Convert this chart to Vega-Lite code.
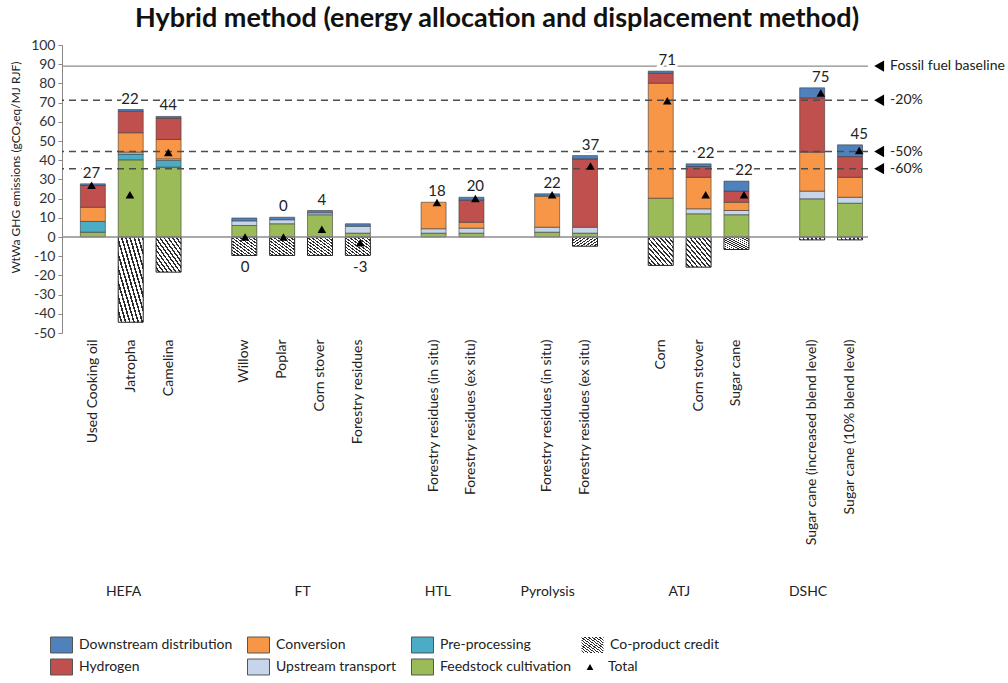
{
  "$schema": "https://vega.github.io/schema/vega-lite/v6.json",
  "width": 806,
  "height": 288,
  "autosize": {"type": "none"},
  "padding": {"left": 62, "top": 45, "right": 140, "bottom": 350},
  "background": "white",
  "config": {
    "font": "Lato",
    "view": {"stroke": null},
    "axis": {"grid": false, "labelFont": "Lato", "titleFont": "Lato"},
    "axisY": {
      "labelOverlap": false, "labelBound": false, "labelFlush": false,
      "labelFontSize": 14, "labelColor": "#333", "tickSize": 4, "tickColor": "#888",
      "domainColor": "#888", "labelPadding": 3, "titleFontSize": 12, "titleFontWeight": "normal",
      "titleColor": "#222", "titleX": -47, "titleY": 122, "titleBaseline": "middle", "titleAlign": "center"
    },
    "legend": {"labelFont": "Lato"},
    "text": {"font": "Lato"}
  },
  "title": {
    "text": "Hybrid method (energy allocation and displacement method)",
    "font": "Lato", "fontSize": 27, "fontWeight": "bold", "color": "#111",
    "anchor": "middle", "frame": "group", "dx": 32, "offset": 5
  },
  "datasets": {
    "p": [
      {"id": "HEFA|Used Cooking oil", "Feedstock cultivation": 2.5, "Pre-processing": 5.6, "Upstream transport": 0, "Conversion": 7.4, "Hydrogen": 11.3, "Downstream distribution": 0.9, "Co-product credit": 0, "Total": 27},
      {"id": "HEFA|Jatropha", "Feedstock cultivation": 40.2, "Pre-processing": 3.0, "Upstream transport": 1.0, "Conversion": 10.1, "Hydrogen": 11.2, "Downstream distribution": 0.9, "Co-product credit": -44.4, "Total": 22},
      {"id": "HEFA|Camelina", "Feedstock cultivation": 36.4, "Pre-processing": 3.5, "Upstream transport": 0.8, "Conversion": 10.1, "Hydrogen": 11.1, "Downstream distribution": 0.9, "Co-product credit": -18.3, "Total": 44},
      {"id": "FT|Willow", "Feedstock cultivation": 6.0, "Pre-processing": 0, "Upstream transport": 2.4, "Conversion": 0, "Hydrogen": 0, "Downstream distribution": 1.5, "Co-product credit": -9.6, "Total": 0},
      {"id": "FT|Poplar", "Feedstock cultivation": 6.9, "Pre-processing": 0, "Upstream transport": 2.1, "Conversion": 0, "Hydrogen": 0, "Downstream distribution": 1.3, "Co-product credit": -9.6, "Total": 0},
      {"id": "FT|Corn stover", "Feedstock cultivation": 11.6, "Pre-processing": 0, "Upstream transport": 1.0, "Conversion": 0, "Hydrogen": 0, "Downstream distribution": 1.2, "Co-product credit": -9.6, "Total": 4},
      {"id": "FT|Forestry residues", "Feedstock cultivation": 2.0, "Pre-processing": 0, "Upstream transport": 3.6, "Conversion": 0, "Hydrogen": 0, "Downstream distribution": 1.3, "Co-product credit": -9.6, "Total": -3},
      {"id": "HTL|Forestry residues (in situ)", "Feedstock cultivation": 2.0, "Pre-processing": 0, "Upstream transport": 2.3, "Conversion": 13.8, "Hydrogen": 0, "Downstream distribution": 0, "Co-product credit": 0, "Total": 18},
      {"id": "HTL|Forestry residues (ex situ)", "Feedstock cultivation": 2.0, "Pre-processing": 0, "Upstream transport": 2.6, "Conversion": 3.1, "Hydrogen": 11.5, "Downstream distribution": 1.5, "Co-product credit": 0, "Total": 20},
      {"id": "Pyrolysis|Forestry residues (in situ)", "Feedstock cultivation": 2.5, "Pre-processing": 0, "Upstream transport": 2.6, "Conversion": 16.2, "Hydrogen": 0, "Downstream distribution": 1.2, "Co-product credit": 0, "Total": 22},
      {"id": "Pyrolysis|Forestry residues (ex situ)", "Feedstock cultivation": 2.0, "Pre-processing": 0, "Upstream transport": 3.1, "Conversion": 0, "Hydrogen": 35.6, "Downstream distribution": 1.7, "Co-product credit": -4.8, "Total": 37},
      {"id": "ATJ|Corn", "Feedstock cultivation": 20.2, "Pre-processing": 0, "Upstream transport": 0, "Conversion": 59.9, "Hydrogen": 5.2, "Downstream distribution": 1.1, "Co-product credit": -14.8, "Total": 71},
      {"id": "ATJ|Corn stover", "Feedstock cultivation": 12.1, "Pre-processing": 0, "Upstream transport": 2.6, "Conversion": 16.4, "Hydrogen": 5.6, "Downstream distribution": 1.4, "Co-product credit": -15.7, "Total": 22},
      {"id": "ATJ|Sugar cane", "Feedstock cultivation": 11.6, "Pre-processing": 0, "Upstream transport": 2.2, "Conversion": 4.3, "Hydrogen": 5.8, "Downstream distribution": 5.2, "Co-product credit": -6.5, "Total": 22},
      {"id": "DSHC|Sugar cane (increased blend level)", "Feedstock cultivation": 19.9, "Pre-processing": 0, "Upstream transport": 4.0, "Conversion": 20.3, "Hydrogen": 28.3, "Downstream distribution": 5.2, "Co-product credit": -1.5, "Total": 75},
      {"id": "DSHC|Sugar cane (10% blend level)", "Feedstock cultivation": 17.6, "Pre-processing": 0, "Upstream transport": 3.1, "Conversion": 10.4, "Hydrogen": 10.8, "Downstream distribution": 6.1, "Co-product credit": -1.5, "Total": 45}
    ],
    "refs": [
      {"label": "Fossil fuel baseline", "value": 89},
      {"label": "-20%", "value": 71.2},
      {"label": "-50%", "value": 44.5},
      {"label": "-60%", "value": 35.6}
    ]
  },
  "layer": [
    {
      "data": {"name": "p"},
      "encoding": {
        "x": {
          "field": "id", "type": "nominal",
          "scale": {
            "domain": ["HEFA|Used Cooking oil", "HEFA|Jatropha", "HEFA|Camelina", "gap1|", "FT|Willow", "FT|Poplar", "FT|Corn stover", "FT|Forestry residues", "gap2|", "HTL|Forestry residues (in situ)", "HTL|Forestry residues (ex situ)", "gap3|", "Pyrolysis|Forestry residues (in situ)", "Pyrolysis|Forestry residues (ex situ)", "gap4|", "ATJ|Corn", "ATJ|Corn stover", "ATJ|Sugar cane", "gap5|", "DSHC|Sugar cane (increased blend level)", "DSHC|Sugar cane (10% blend level)"],
            "paddingInner": 0.34, "paddingOuter": 0.315, "align": 0.77
          },
          "axis": {
            "title": null, "labelAngle": -90, "labelAlign": "right", "labelBaseline": "middle",
            "labelPadding": 6, "ticks": false, "domain": false, "labelFontSize": 14,
            "labelColor": "#222", "labelExpr": "split(datum.label, '|')[1]", "labelLimit": 0, "labelOverlap": false
          }
        }
      },
      "layer": [
        {
          "transform": [
            {"fold": ["Feedstock cultivation", "Pre-processing", "Upstream transport", "Conversion", "Hydrogen", "Downstream distribution"], "as": ["component", "value"]},
            {"window": [{"op": "row_number", "as": "k"}], "groupby": ["id"]},
            {"filter": "datum.value > 0"}
          ],
          "mark": {"type": "bar", "stroke": "#3a3a3a", "strokeWidth": 0.7, "strokeOpacity": 0.85},
          "encoding": {
            "y": {
              "field": "value", "type": "quantitative", "stack": "zero",
              "scale": {"domain": [-50, 100], "nice": false, "zero": false},
              "axis": {"title": "WtWa GHG emissions  (gCO₂eq/MJ RJF)", "values": [-50, -40, -30, -20, -10, 0, 10, 20, 30, 40, 50, 60, 70, 80, 90, 100], "labelExpr": "'' + datum.value", "labelOverlap": false}
            },
            "color": {
              "field": "component", "type": "nominal",
              "scale": {
                "domain": ["Downstream distribution", "Hydrogen", "Conversion", "Upstream transport", "Pre-processing", "Feedstock cultivation"],
                "range": ["#4f81bd", "#c0504d", "#f79646", "#c6d5ea", "#4bacc6", "#9bbb59"]
              },
              "legend": {
                "orient": "none", "legendX": -12, "legendY": 589, "columns": 3, "title": null,
                "gridAlign": "each", "columnPadding": 14, "rowPadding": 0, "symbolSize": 484, "clipHeight": 22,
                "symbolType": "M-1,-0.727H1V0.727H-1Z", "symbolStrokeColor": "#555", "symbolStrokeWidth": 1,
                "labelFontSize": 14, "labelColor": "#222", "labelOffset": 6, "labelLimit": 0, "symbolOpacity": 1
              }
            },
            "order": {"field": "k", "type": "quantitative"}
          }
        },
        {
          "transform": [{"filter": "datum['Co-product credit'] < 0"}],
          "mark": {
            "type": "bar", "stroke": "#222", "strokeWidth": 1,
            "fill": {"gradient": "linear", "x1": 0, "y1": 1, "x2": 1, "y2": 0, "stops": [{"offset":0,"color":"#fff"},{"offset":0.05,"color":"#fff"},{"offset":0.05,"color":"#2b2b2b"},{"offset":0.0833,"color":"#2b2b2b"},{"offset":0.0833,"color":"#fff"},{"offset":0.1333,"color":"#fff"},{"offset":0.1333,"color":"#2b2b2b"},{"offset":0.1667,"color":"#2b2b2b"},{"offset":0.1667,"color":"#fff"},{"offset":0.2167,"color":"#fff"},{"offset":0.2167,"color":"#2b2b2b"},{"offset":0.25,"color":"#2b2b2b"},{"offset":0.25,"color":"#fff"},{"offset":0.3,"color":"#fff"},{"offset":0.3,"color":"#2b2b2b"},{"offset":0.3333,"color":"#2b2b2b"},{"offset":0.3333,"color":"#fff"},{"offset":0.3833,"color":"#fff"},{"offset":0.3833,"color":"#2b2b2b"},{"offset":0.4167,"color":"#2b2b2b"},{"offset":0.4167,"color":"#fff"},{"offset":0.4667,"color":"#fff"},{"offset":0.4667,"color":"#2b2b2b"},{"offset":0.5,"color":"#2b2b2b"},{"offset":0.5,"color":"#fff"},{"offset":0.55,"color":"#fff"},{"offset":0.55,"color":"#2b2b2b"},{"offset":0.5833,"color":"#2b2b2b"},{"offset":0.5833,"color":"#fff"},{"offset":0.6333,"color":"#fff"},{"offset":0.6333,"color":"#2b2b2b"},{"offset":0.6667,"color":"#2b2b2b"},{"offset":0.6667,"color":"#fff"},{"offset":0.7167,"color":"#fff"},{"offset":0.7167,"color":"#2b2b2b"},{"offset":0.75,"color":"#2b2b2b"},{"offset":0.75,"color":"#fff"},{"offset":0.8,"color":"#fff"},{"offset":0.8,"color":"#2b2b2b"},{"offset":0.8333,"color":"#2b2b2b"},{"offset":0.8333,"color":"#fff"},{"offset":0.8833,"color":"#fff"},{"offset":0.8833,"color":"#2b2b2b"},{"offset":0.9167,"color":"#2b2b2b"},{"offset":0.9167,"color":"#fff"},{"offset":0.9667,"color":"#fff"},{"offset":0.9667,"color":"#2b2b2b"},{"offset":1,"color":"#2b2b2b"}]}
          },
          "encoding": {
            "y": {"field": "Co-product credit", "type": "quantitative", "axis": {"title": "WtWa GHG emissions  (gCO₂eq/MJ RJF)", "values": [-50, -40, -30, -20, -10, 0, 10, 20, 30, 40, 50, 60, 70, 80, 90, 100], "labelExpr": "'' + datum.value", "labelOverlap": false}},
            "opacity": {
              "datum": "Co-product credit", "type": "nominal",
              "scale": {"range": [1]},
              "legend": {
                "orient": "none", "legendX": 519, "legendY": 589, "title": null, "clipHeight": 22,
                "symbolSize": 484, "symbolType": "M-1,-0.727H1V0.727H-1Z", "symbolStrokeColor": "#555", "symbolStrokeWidth": 1,
                "labelFontSize": 14, "labelColor": "#222", "labelOffset": 6, "labelLimit": 0
              }
            }
          }
        }
      ]
    },
    {
      "data": {"name": "refs"},
      "layer": [
        {
          "transform": [{"filter": "datum.label === 'Fossil fuel baseline'"}],
          "mark": {"type": "rule", "color": "#8c8c8c", "strokeWidth": 1.3},
          "encoding": {"y": {"datum": 0, "type": "quantitative", "axis": {"title": "WtWa GHG emissions  (gCO₂eq/MJ RJF)", "values": [-50, -40, -30, -20, -10, 0, 10, 20, 30, 40, 50, 60, 70, 80, 90, 100], "labelExpr": "'' + datum.value", "labelOverlap": false}}}
        },
        {
          "transform": [{"filter": "datum.label === 'Fossil fuel baseline'"}],
          "mark": {"type": "rule", "color": "#8c8c8c", "strokeWidth": 1.3},
          "encoding": {"y": {"field": "value", "type": "quantitative", "axis": {"title": "WtWa GHG emissions  (gCO₂eq/MJ RJF)", "values": [-50, -40, -30, -20, -10, 0, 10, 20, 30, 40, 50, 60, 70, 80, 90, 100], "labelExpr": "'' + datum.value", "labelOverlap": false}}}
        },
        {
          "transform": [{"filter": "datum.label !== 'Fossil fuel baseline'"}],
          "mark": {"type": "rule", "color": "#4d4d4d", "strokeWidth": 1.5, "strokeDash": [7, 5]},
          "encoding": {"y": {"field": "value", "type": "quantitative", "axis": {"title": "WtWa GHG emissions  (gCO₂eq/MJ RJF)", "values": [-50, -40, -30, -20, -10, 0, 10, 20, 30, 40, 50, 60, 70, 80, 90, 100], "labelExpr": "'' + datum.value", "labelOverlap": false}}}
        },
        {
          "mark": {"type": "point", "shape": "triangle-left", "filled": true, "color": "#000", "size": 130, "opacity": 1},
          "encoding": {
            "x": {
              "datum": 20.77, "type": "quantitative",
              "scale": {"domain": [-0.813, 20.476], "nice": false, "zero": false},
              "axis": {
                "orient": "bottom", "title": null, "values": [0.8, 5.53, 9.1, 12.0, 15.48, 18.88],
                "labelExpr": "datum.value < 3 ? 'HEFA' : datum.value < 7 ? 'FT' : datum.value < 10.5 ? 'HTL' : datum.value < 14 ? 'Pyrolysis' : datum.value < 17 ? 'ATJ' : 'DSHC'",
                "domain": false, "ticks": false, "grid": false, "labelPadding": 251, "labelFontSize": 14,
                "labelColor": "#222", "labelBaseline": "top", "labelAlign": "center", "labelFlush": false, "labelOverlap": false
              }
            },
            "y": {"field": "value", "type": "quantitative", "axis": {"title": "WtWa GHG emissions  (gCO₂eq/MJ RJF)", "values": [-50, -40, -30, -20, -10, 0, 10, 20, 30, 40, 50, 60, 70, 80, 90, 100], "labelExpr": "'' + datum.value", "labelOverlap": false}}
          }
        },
        {
          "mark": {"type": "text", "align": "left", "baseline": "middle", "fontSize": 14, "color": "#222"},
          "encoding": {
            "x": {"datum": 21.06, "type": "quantitative"},
            "y": {"field": "value", "type": "quantitative", "axis": {"title": "WtWa GHG emissions  (gCO₂eq/MJ RJF)", "values": [-50, -40, -30, -20, -10, 0, 10, 20, 30, 40, 50, 60, 70, 80, 90, 100], "labelExpr": "'' + datum.value", "labelOverlap": false}},
            "text": {"field": "label"}
          }
        }
      ]
    },
    {
      "data": {"name": "p"},
      "encoding": {
        "x": {
          "field": "id", "type": "nominal",
          "scale": {
            "domain": ["HEFA|Used Cooking oil", "HEFA|Jatropha", "HEFA|Camelina", "gap1|", "FT|Willow", "FT|Poplar", "FT|Corn stover", "FT|Forestry residues", "gap2|", "HTL|Forestry residues (in situ)", "HTL|Forestry residues (ex situ)", "gap3|", "Pyrolysis|Forestry residues (in situ)", "Pyrolysis|Forestry residues (ex situ)", "gap4|", "ATJ|Corn", "ATJ|Corn stover", "ATJ|Sugar cane", "gap5|", "DSHC|Sugar cane (increased blend level)", "DSHC|Sugar cane (10% blend level)"],
            "paddingInner": 0.34, "paddingOuter": 0.315, "align": 0.77
          },
          "axis": null
        }
      },
      "layer": [
        {
          "transform": [
            {"fold": ["Feedstock cultivation", "Pre-processing", "Upstream transport", "Conversion", "Hydrogen", "Downstream distribution"], "as": ["component", "value"]},
            {"aggregate": [{"op": "sum", "field": "value", "as": "top"}], "groupby": ["id", "Total"]},
            {"filter": "datum.id !== 'FT|Willow' && datum.id !== 'FT|Forestry residues'"}
          ],
          "encoding": {
            "y": {"field": "top", "type": "quantitative", "axis": {"title": "WtWa GHG emissions  (gCO₂eq/MJ RJF)", "values": [-50, -40, -30, -20, -10, 0, 10, 20, 30, 40, 50, 60, 70, 80, 90, 100], "labelExpr": "'' + datum.value", "labelOverlap": false}},
            "text": {"field": "Total", "type": "nominal"}
          },
          "layer": [
            {"mark": {"type": "text", "baseline": "bottom", "dy": -3, "fontSize": 15, "fill": "#fff", "stroke": "#fff", "strokeWidth": 5}},
            {"mark": {"type": "text", "baseline": "bottom", "dy": -3, "fontSize": 15, "color": "#222"}}
          ]
        },
        {
          "transform": [{"filter": "datum.id === 'FT|Willow' || datum.id === 'FT|Forestry residues'"}],
          "mark": {"type": "text", "baseline": "top", "dy": 5, "fontSize": 15, "color": "#222"},
          "encoding": {
            "y": {"field": "Co-product credit", "type": "quantitative", "axis": {"title": "WtWa GHG emissions  (gCO₂eq/MJ RJF)", "values": [-50, -40, -30, -20, -10, 0, 10, 20, 30, 40, 50, 60, 70, 80, 90, 100], "labelExpr": "'' + datum.value", "labelOverlap": false}},
            "text": {"field": "Total", "type": "nominal"}
          }
        },
        {
          "mark": {"type": "point", "filled": true, "color": "#000", "size": 75, "opacity": 1},
          "encoding": {
            "y": {"field": "Total", "type": "quantitative", "axis": {"title": "WtWa GHG emissions  (gCO₂eq/MJ RJF)", "values": [-50, -40, -30, -20, -10, 0, 10, 20, 30, 40, 50, 60, 70, 80, 90, 100], "labelExpr": "'' + datum.value", "labelOverlap": false}},
            "shape": {
              "datum": "Total", "type": "nominal",
              "scale": {"range": ["triangle-up"]},
              "legend": {
                "orient": "none", "legendX": 521, "legendY": 611, "title": null, "clipHeight": 22,
                "symbolSize": 45, "symbolFillColor": "#000", "symbolStrokeWidth": 0,
                "labelFontSize": 14, "labelColor": "#222", "labelOffset": 11, "labelLimit": 0
              }
            }
          }
        }
      ]
    }
  ],
  "resolve": {"scale": {"x": "independent"}, "axis": {"x": "independent"}}
}
